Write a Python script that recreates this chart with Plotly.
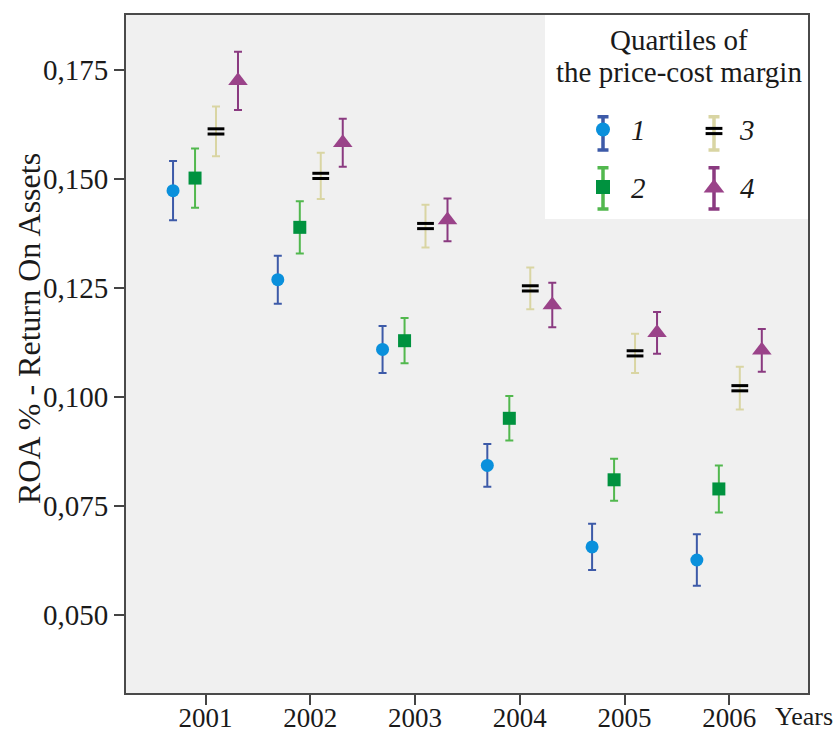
import plotly.graph_objects as go

# ---------------- data ----------------
years = [2001, 2002, 2003, 2004, 2005, 2006]
year_labels = ["2001", "2002", "2003", "2004", "2005", "2006"]

q1_mean = [0.1473, 0.1269, 0.1109, 0.0843, 0.0656, 0.0626]
q1_err = [0.0068, 0.0055, 0.0054, 0.0049, 0.0053, 0.0059]
q2_mean = [0.1502, 0.1389, 0.1129, 0.0951, 0.0810, 0.0789]
q2_err = [0.0068, 0.0060, 0.0052, 0.0051, 0.0048, 0.0054]
q3_mean = [0.1609, 0.1507, 0.1392, 0.1249, 0.1100, 0.1020]
q3_err = [0.0057, 0.0053, 0.0049, 0.0048, 0.0045, 0.0049]
q4_mean = [0.1725, 0.1583, 0.1406, 0.1211, 0.1147, 0.1107]
q4_err = [0.0067, 0.0055, 0.0049, 0.0051, 0.0048, 0.0049]

quartile_labels = ["1", "2", "3", "4"]
y_tickvals = [0.050, 0.075, 0.100, 0.125, 0.150, 0.175]
y_ticktext = ["0,050", "0,075", "0,100", "0,125", "0,150", "0,175"]

# ---------------- styles / layout constants ----------------
SERIF = "Liberation Serif"
TXT = "#1a1a1a"
W, H = 840, 735
ML, MR, MT, MB = 126, 32, 15, 42
X_RANGE = [2000.241, 2006.751]
Y_RANGE = [0.0321, 0.1876]
PLOT_H = H - MT - MB
PX2DATA = (Y_RANGE[1] - Y_RANGE[0]) / PLOT_H   # data units per pixel (y)
EQ_GAP_PX = 2.6                                 # half gap of the "=" marker bars

offsets = [-0.31, -0.10, 0.10, 0.31]
err_colors = ["#3d5aa8", "#52b84e", "#d9d5a3", "#8a3a80"]
mk_colors = ["#0a90dc", "#00923f", "#000000", "#9a4389"]
symbols = ["circle", "square", "line-ew", "triangle-up"]
sizes = [13, 13, 12, 17]

series = [(q1_mean, q1_err), (q2_mean, q2_err), (q3_mean, q3_err), (q4_mean, q4_err)]

fig = go.Figure()

for i, (m, e) in enumerate(series):
    xs = [yr + offsets[i] for yr in years]
    err = dict(type="data", array=e, color=err_colors[i], thickness=2, width=4)
    if symbols[i] == "line-ew":
        # error bar alone
        fig.add_trace(go.Scatter(x=xs, y=m, mode="markers", marker=dict(size=1, opacity=0),
                                 error_y=err, showlegend=False, cliponaxis=False, hoverinfo="skip"))
        # "=" marker: two bold horizontal bars around each mean
        for sgn in (-1, 1):
            fig.add_trace(go.Scatter(
                x=xs, y=[v + sgn * EQ_GAP_PX * PX2DATA for v in m], mode="markers",
                marker=dict(symbol="line-ew", size=sizes[i], line=dict(width=3, color="black")),
                showlegend=False, cliponaxis=False, hoverinfo="skip"))
    else:
        fig.add_trace(go.Scatter(
            x=xs, y=m, mode="markers",
            marker=dict(symbol=symbols[i], size=sizes[i], color=mk_colors[i], line=dict(width=0)),
            error_y=err, showlegend=False, cliponaxis=False))

# ---------------- legend (drawn on a pixel-coordinate overlay axis) ----------------
leg_x = [603, 603, 714, 714]          # glyph x (px)
leg_y = [129.5, 187, 131, 188]        # marker y (px)
leg_up = [12.8, 19.3, 14.3, 20.3]     # to top cap
leg_dn = [20.5, 22.0, 19.0, 21.0]     # to bottom cap
for i in range(4):
    err = dict(type="data", symmetric=False, array=[leg_dn[i]], arrayminus=[leg_up[i]],
               color=err_colors[i], thickness=3.5, width=5.5)
    if symbols[i] == "line-ew":
        fig.add_trace(go.Scatter(x=[leg_x[i]], y=[leg_y[i]], mode="markers",
                                 marker=dict(size=1, opacity=0), error_y=err,
                                 xaxis="x2", yaxis="y2", showlegend=False, cliponaxis=False,
                                 hoverinfo="skip"))
        for sgn in (-1, 1):
            fig.add_trace(go.Scatter(
                x=[leg_x[i]], y=[leg_y[i] + sgn * EQ_GAP_PX], mode="markers",
                marker=dict(symbol="line-ew", size=12, line=dict(width=3, color="black")),
                xaxis="x2", yaxis="y2", showlegend=False, cliponaxis=False, hoverinfo="skip"))
    else:
        fig.add_trace(go.Scatter(
            x=[leg_x[i]], y=[leg_y[i]], mode="markers",
            marker=dict(symbol=symbols[i], size=sizes[i] + 1, color=mk_colors[i], line=dict(width=0)),
            error_y=err, xaxis="x2", yaxis="y2", showlegend=False, cliponaxis=False))


def px_x(p):
    return (p - ML) / (W - ML - MR)


def px_y(p):
    return (H - MB - p) / PLOT_H


lab_x = [638, 638, 747, 747]
lab_y = [130, 188, 130, 188]
annotations = []
for i in range(4):
    annotations.append(dict(
        x=px_x(lab_x[i]), y=px_y(lab_y[i]), xref="paper", yref="paper",
        text="<i>" + quartile_labels[i] + "</i>",
        showarrow=False, xanchor="center", yanchor="middle",
        font=dict(family=SERIF, size=29, color=TXT)))

annotations += [
    dict(x=px_x(679), y=px_y(40), xref="paper", yref="paper", text="Quartiles of",
         showarrow=False, xanchor="center", yanchor="middle",
         font=dict(family=SERIF, size=29, color=TXT)),
    dict(x=px_x(679), y=px_y(72), xref="paper", yref="paper", text="the price-cost margin",
         showarrow=False, xanchor="center", yanchor="middle",
         font=dict(family=SERIF, size=29, color=TXT)),
    dict(x=px_x(804), y=px_y(716), xref="paper", yref="paper", text="Years",
         showarrow=False, xanchor="center", yanchor="middle",
         font=dict(family=SERIF, size=26, color=TXT)),
    dict(x=px_x(29), y=px_y(329), xref="paper", yref="paper", text="ROA % - Return On Assets",
         showarrow=False, textangle=-90, xanchor="center", yanchor="middle",
         font=dict(family=SERIF, size=32, color=TXT)),
]

shapes = [dict(type="rect", xref="paper", yref="paper",
               x0=px_x(545), x1=1, y0=px_y(219), y1=1,
               fillcolor="white", line=dict(width=0), layer="below")]

axis_common = dict(ticks="outside", ticklen=10, tickwidth=1.5, tickcolor="#444",
                   showgrid=False, zeroline=False, showline=True, linewidth=2,
                   linecolor="#4a4a4a", mirror=True, automargin=False)

fig.update_layout(
    width=W, height=H,
    margin=dict(l=ML, r=MR, t=MT, b=MB, autoexpand=False),
    paper_bgcolor="white",
    plot_bgcolor="#f0f0f0",
    showlegend=False,
    xaxis=dict(range=X_RANGE, tickvals=years, ticktext=year_labels,
               ticklabelstandoff=-10, tickfont=dict(family=SERIF, size=27, color=TXT),
               **axis_common),
    yaxis=dict(range=Y_RANGE, tickvals=y_tickvals, ticktext=y_ticktext,
               tickfont=dict(family=SERIF, size=29, color=TXT), **axis_common),
    xaxis2=dict(overlaying="x", anchor="y2", range=[ML, W - MR], visible=False,
                fixedrange=True, automargin=False),
    yaxis2=dict(overlaying="y", anchor="x2", range=[H - MB, MT], visible=False,
                fixedrange=True, automargin=False),
    annotations=annotations,
    shapes=shapes,
)

fig.write_html("out.html", config={"displayModeBar": False},
               post_script="document.body.style.margin='0';document.body.style.overflow='hidden';")
